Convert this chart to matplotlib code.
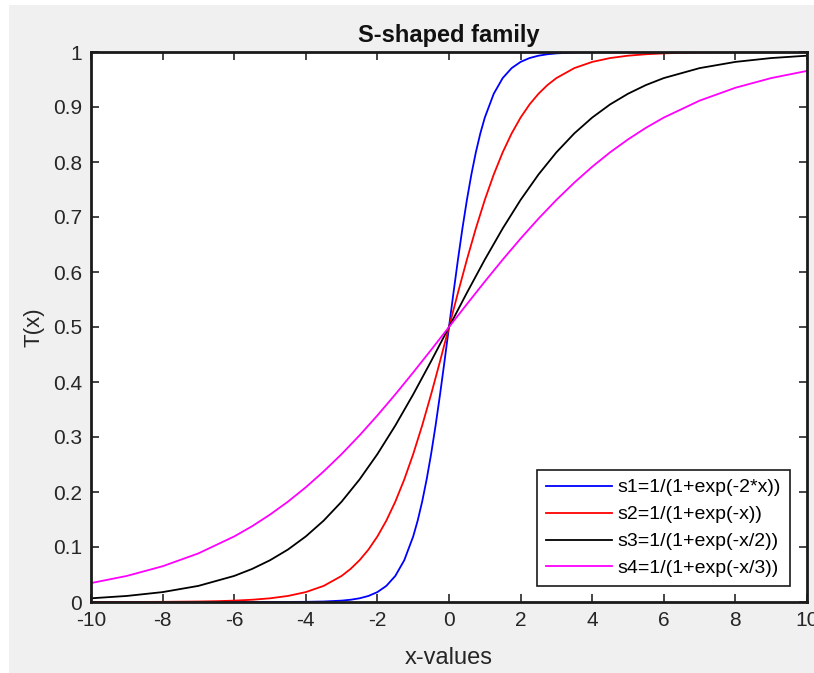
import matplotlib
matplotlib.use("Agg")
import matplotlib.pyplot as plt
from matplotlib.patches import Rectangle

plt.rcParams['font.family'] = ['Liberation Sans', 'DejaVu Sans']

# values
x1 = [-10, -9, -8, -7, -6, -5, -4, -3.5, -3, -2.75, -2.5, -2.25, -2, -1.75, -1.5, -1.25, -1,
      -0.875, -0.75, -0.625, -0.5, -0.375, -0.25, -0.125, 0, 0.125, 0.25, 0.375, 0.5, 0.625,
      0.75, 0.875, 1, 1.25, 1.5, 1.75, 2, 2.25, 2.5, 2.75, 3, 3.5, 4, 5, 6, 7, 8, 9, 10]
s1 = [0.0, 0.0, 0.0, 0.0, 0.0, 0.0, 0.0003, 0.0009, 0.0025, 0.0041, 0.0067, 0.0110, 0.0180,
      0.0293, 0.0474, 0.0759, 0.1192, 0.1480, 0.1824, 0.2227, 0.2689, 0.3208, 0.3775, 0.4378,
      0.5, 0.5622, 0.6225, 0.6792, 0.7311, 0.7773, 0.8176, 0.8520, 0.8808, 0.9241, 0.9526,
      0.9707, 0.9820, 0.9890, 0.9933, 0.9959, 0.9975, 0.9991, 0.9997, 1.0, 1.0, 1.0, 1.0, 1.0, 1.0]

x2 = [-10, -9, -8, -7, -6.5, -6, -5.5, -5, -4.5, -4, -3.5, -3, -2.75, -2.5, -2.25, -2,
      -1.75, -1.5, -1.25, -1, -0.75, -0.5, -0.25, 0, 0.25, 0.5, 0.75, 1, 1.25, 1.5, 1.75, 2,
      2.25, 2.5, 2.75, 3, 3.5, 4, 4.5, 5, 5.5, 6, 6.5, 7, 8, 9, 10]
s2 = [0.00005, 0.0001, 0.0003, 0.0009, 0.0015, 0.0025, 0.0041, 0.0067, 0.0110, 0.0180,
      0.0293, 0.0474, 0.0601, 0.0759, 0.0953, 0.1192, 0.1480, 0.1824, 0.2227, 0.2689, 0.3208,
      0.3775, 0.4378, 0.5, 0.5622, 0.6225, 0.6792, 0.7311, 0.7773, 0.8176, 0.8520, 0.8808,
      0.9047, 0.9241, 0.9399, 0.9526, 0.9707, 0.9820, 0.9890, 0.9933, 0.9959, 0.9975, 0.9985,
      0.9991, 0.9997, 0.9999, 0.99995]

x3 = [-10, -9, -8, -7, -6, -5.5, -5, -4.5, -4, -3.5, -3, -2.5, -2, -1.5, -1, -0.5, 0,
      0.5, 1, 1.5, 2, 2.5, 3, 3.5, 4, 4.5, 5, 5.5, 6, 7, 8, 9, 10]
s3 = [0.0067, 0.0110, 0.0180, 0.0293, 0.0474, 0.0601, 0.0759, 0.0953, 0.1192, 0.1480,
      0.1824, 0.2227, 0.2689, 0.3208, 0.3775, 0.4378, 0.5, 0.5622, 0.6225, 0.6792, 0.7311,
      0.7773, 0.8176, 0.8520, 0.8808, 0.9047, 0.9241, 0.9399, 0.9526, 0.9707, 0.9820,
      0.9890, 0.9933]

x4 = [-10, -9, -8, -7, -6, -5.5, -5, -4.5, -4, -3.5, -3, -2.5, -2, -1.5, -1, -0.5, 0,
      0.5, 1, 1.5, 2, 2.5, 3, 3.5, 4, 4.5, 5, 5.5, 6, 7, 8, 9, 10]
s4 = [0.0344, 0.0474, 0.0650, 0.0884, 0.1192, 0.1378, 0.1589, 0.1824, 0.2086, 0.2375,
      0.2689, 0.3029, 0.3392, 0.3775, 0.4174, 0.4584, 0.5, 0.5416, 0.5826, 0.6225, 0.6608,
      0.6971, 0.7311, 0.7625, 0.7914, 0.8176, 0.8411, 0.8622, 0.8808, 0.9116, 0.9350,
      0.9526, 0.9656]

labels = ['s1=1/(1+exp(-2*x))', 's2=1/(1+exp(-x))', 's3=1/(1+exp(-x/2))', 's4=1/(1+exp(-x/3))']
colors = ['#0000ff', '#ff0000', '#000000', '#ff00ff']
xticks = [-10, -8, -6, -4, -2, 0, 2, 4, 6, 8, 10]
yticks = [0, 0.1, 0.2, 0.3, 0.4, 0.5, 0.6, 0.7, 0.8, 0.9, 1]
ytick_labels = ['0', '0.1', '0.2', '0.3', '0.4', '0.5', '0.6', '0.7', '0.8', '0.9', '1']

W, H = 814, 673
fig = plt.figure(figsize=(W / 100, H / 100), dpi=100, facecolor='white')
fig.patches.append(Rectangle((9 / W, 0), 1 - 9 / W, 1 - 5 / H, transform=fig.transFigure,
                             facecolor='#f0f0f0', edgecolor='none', zorder=-10))
ax = fig.add_axes([91 / W, 1 - 602 / H, (807 - 91) / W, (602 - 52) / H])
ax.set_facecolor('white')

for xs, ys, lab, c in zip([x1, x2, x3, x4], [s1, s2, s3, s4], labels, colors):
    ax.plot(xs, ys, color=c, lw=1.3, label=lab)

ax.set_xlim(-10, 10)
ax.set_ylim(0, 1)
ax.set_xticks(xticks)
ax.set_xticklabels([str(t) for t in xticks])
ax.set_yticks(yticks)
ax.set_yticklabels(ytick_labels)
ax.tick_params(direction='in', length=6, width=1.2, top=True, right=True,
               labelsize=15, colors='#262626', pad=6.5)
for sp in ax.spines.values():
    sp.set_linewidth(2)
    sp.set_color('#1a1a1a')

ax.set_title('S-shaped family', fontsize=17, fontweight='bold', pad=7, color='#111111')
ax.set_xlabel('x-values', fontsize=17, color='#262626', labelpad=12)
ax.set_ylabel('T(x)', fontsize=16, color='#262626', labelpad=6)

leg = ax.legend(loc='lower right', bbox_to_anchor=((790 - 91) / 716, (602 - 586) / 550),
                prop={'size': 14}, fancybox=False, framealpha=1, edgecolor='#1a1a1a',
                handlelength=3.4, borderpad=0.45, labelspacing=0.48, handletextpad=0.3,
                borderaxespad=0)
leg.get_frame().set_linewidth(1.2)

fig.savefig('out.png', dpi=100, facecolor=fig.get_facecolor())
